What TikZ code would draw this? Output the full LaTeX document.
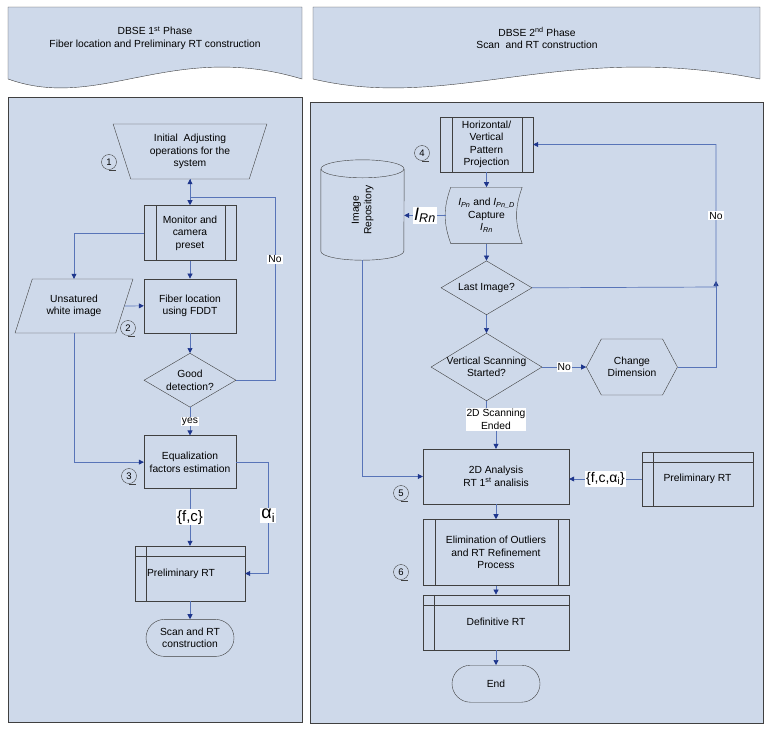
\documentclass[tikz,border=0pt]{standalone}
\usepackage{fontspec}
\setmainfont{Liberation Sans}
\usepackage{tikz}
\usetikzlibrary{positioning, shapes, arrows.meta}
\definecolor{panelblue}{RGB}{206,217,234}
\definecolor{flowblue}{RGB}{88,116,184}
\definecolor{tipblue}{RGB}{30,54,140}
\definecolor{edgegray}{RGB}{64,64,64}
\tikzstyle{box}=[%
      rectangle, draw=edgegray, align=center,
      minimum width=92pt, minimum height=55pt, inner sep=2pt
]
\tikzstyle{proc}=[%
      box, path picture={
        \draw[edgegray] ([xshift=12pt]path picture bounding box.north west)
              -- ([xshift=12pt]path picture bounding box.south west);
        \draw[edgegray] ([xshift=-11pt]path picture bounding box.north east)
              -- ([xshift=-11pt]path picture bounding box.south east);}
]
\tikzstyle{store}=[%
      box, path picture={
        \draw[edgegray] ([yshift=-10pt]path picture bounding box.north west)
              -- ([yshift=-10pt]path picture bounding box.north east);
        \draw[edgegray] ([xshift=11pt]path picture bounding box.north west)
              -- ([xshift=11pt]path picture bounding box.south west);}
]
\tikzstyle{io}=[%
      trapezium, trapezium left angle=65, trapezium right angle=115, trapezium stretches=true,
      draw=edgegray, align=center, minimum width=118pt, minimum height=54pt, inner sep=2pt
]
\tikzstyle{manual}=[%
      trapezium, trapezium angle=72, shape border rotate=180, trapezium stretches=true,
      draw=edgegray, align=center, minimum width=154pt, minimum height=55pt, inner sep=2pt
]
\tikzstyle{dec}=[%
      diamond, draw=edgegray, align=center, inner sep=-8pt,
      minimum width=92pt, minimum height=54pt
]
\tikzstyle{term}=[%
      rounded rectangle, draw=edgegray, align=center,
      minimum width=92pt, minimum height=37pt, inner sep=2pt
]
\tikzstyle{hexa}=[%
      signal, signal to=west and east, signal pointer angle=124,
      draw=edgegray, align=center, minimum width=91pt, minimum height=56pt, inner sep=2pt
]
\tikzstyle{num}=[%
      circle, draw=edgegray, minimum size=15pt, inner sep=0pt, font=\fontsize{9.5}{9.5}\selectfont
]
\tikzstyle{lbl}=[%
      fill=white, inner sep=1pt, align=center
]
\tikzstyle{flow}=[%
      draw=flowblue, line width=0.7pt, -{Triangle[length=5pt,width=5pt,color=tipblue]}
]
\tikzstyle{link}=[%
      draw=flowblue, line width=0.7pt
]

\begin{document}
\begin{tikzpicture}[x=1pt, y=-1pt, font=\fontsize{10.3}{12.5}\selectfont]
  \useasboundingbox (0,0) rectangle (770,732);

  % phase headers
  \draw[edgegray, fill=panelblue] (8,7) -- (302,7) -- (302,79)
        .. controls (172,40) and (100,112) .. (8,79) -- cycle;
  \draw[edgegray, fill=panelblue] (313,7) -- (760,7) -- (760,79)
        .. controls (562,40) and (453,112) .. (313,79) -- cycle;
  \node[align=center] (hdrA) at (155,38) {DBSE 1\textsuperscript{st} Phase\\Fiber location and Preliminary RT construction};
  \node[align=center] (hdrB) at (537,38) {DBSE 2\textsuperscript{nd} Phase\\Scan\ \ and RT construction};

  % panels
  \draw[edgegray, line width=1pt, fill=panelblue] (8,97) rectangle (302,722);
  \draw[edgegray, line width=1pt, fill=panelblue] (310,102) rectangle (763,723);

  % 1st phase
  \node[manual] (init) at (190,151.5) {Initial\ \ Adjusting\\operations for the\\system};
  \node[proc] (mon) [below=26pt of init] {Monitor and\\camera\\preset};
  \node[box, minimum height=54pt] (fib) [below=18pt of mon] {Fiber location\\using FDDT};
  \node[io] (unsat) at (74,306) {Unsatured\\white image};
  \node[dec] (good) [below=20pt of fib] {Good\\detection?};
  \node[box, minimum height=53pt] (eq) [below=28pt of good] {Equalization\\factors estimation};
  \node[store, minimum width=110pt] (prel) [below=57pt of eq] {\hspace*{-18pt}Preliminary RT};
  \node[term] (scan) [below=18pt of prel] {Scan and RT\\construction};
  \coordinate (nojoin) at (275,197);

  \draw[flow] (init.south) -- (mon.north);
  \draw[flow] (mon.west) -| (unsat.north);
  \draw[flow] (mon.south) -- (fib.north);
  \draw[flow] (unsat.east) -- (fib.west);
  \draw[flow] (fib.south) -- (good.north);
  \draw[flow] (good.east) -| node[lbl, pos=.83] {No} (nojoin) -| (init.south);
  \draw[flow] (good.south) -- node[lbl] {yes} (eq.north);
  \draw[flow] (unsat.south) |- (eq.west);
  \draw[flow] (eq.south) -- node[lbl, font=\fontsize{15}{15}\selectfont] {\{f,c\}} (prel.north);
  \draw[flow] (eq.east) -| node[lbl, pos=.74, font=\fontsize{18}{18}\selectfont] {α\textsubscript{i}} ([xshift=23pt]prel.east) -- (prel.east);
  \draw[flow] (prel.south) -- (scan.north);

  % 2nd phase
  \node[proc, minimum width=93pt] (hv) at (486.5,144.5) {Horizontal/\\Vertical\\Pattern\\Projection};
  \node[minimum width=71pt, minimum height=56pt, align=center] (cap) [below=15pt of hv]
       {\textit{I}\textsubscript{\textit{Pn}} and \textit{I}\textsubscript{\textit{Pn\_D}}\\Capture\\\textit{I}\textsubscript{\textit{Rn}}};
  \draw[edgegray] (cap.north west) -- (cap.north east) to[bend right=20] (cap.south east)
        -- (cap.south west) to[bend left=20] (cap.north west);
  \node[minimum width=83pt, minimum height=100pt] (repo) at (362.5,210)
       {\rotatebox{90}{\begin{tabular}{@{}c@{}}Image\\Repository\end{tabular}}};
  \draw[edgegray] ([yshift=-9pt]repo.north west) -- ([yshift=9pt]repo.south west)
        arc[start angle=180, end angle=360, x radius=41.5pt, y radius=9pt]
        -- ([yshift=-9pt]repo.north east);
  \draw[edgegray] ([yshift=-9pt]repo.north) ellipse [x radius=41.5pt, y radius=9pt];
  \node[dec, minimum width=91pt] (last) [below=17pt of cap] {Last Image?};
  \node[dec, minimum width=111pt, minimum height=66pt] (vsc) [below=18pt of last] {Vertical Scanning\\Started?};
  \node[hexa] (chg) [right=44pt of vsc] {Change\\Dimension};
  \node[lbl] (scanend) at (496,419.5) {2D Scanning\\Ended};
  \node[box, minimum width=146pt] (ana) at (496,476.5) {2D Analysis\\RT 1\textsuperscript{st} analisis};
  \node[store, minimum width=111pt, minimum height=54pt] (prel2) at (697.5,479) {Preliminary RT};
  \node[proc, minimum width=146pt, minimum height=66pt] (elim) [below=15pt of ana] {Elimination of Outliers\\and RT Refinement\\Process};
  \node[store, minimum width=146pt] (def) [below=9pt of elim] {Definitive RT};
  \node[term] (endn) [below=15pt of def] {End};
  \coordinate (turn) at (716,287);

  \draw[flow] (hv.south) -- (cap.north);
  \draw[flow] ([xshift=-5pt]cap.west) -- node[lbl, font=\fontsize{18}{18}\selectfont] {\textit{I}\textsubscript{\textit{Rn}}} (cap.west -| repo.east);
  \draw[flow] (cap.south) -- (last.north);
  \draw[flow] (last.south) -- (vsc.north);
  \draw[flow] (vsc.east) -- node[lbl] {No} (chg.west);
  \draw[flow] (chg.east) -| ([yshift=6pt]turn);
  \draw[flow] (last.east) -- (turn) |- node[lbl, pos=.25] {No} (hv.east);
  \draw[link] (vsc.south) -- (vsc.south |- scanend.north);
  \draw[flow] (scanend.south -| ana.north) -- (ana.north);
  \draw[flow] (repo.south) |- (ana.west);
  \draw[flow] (prel2.west) -- node[lbl, font=\fontsize{14}{14}\selectfont] {\{f,c,α\textsubscript{i}\}} (prel2.west -| ana.east);
  \draw[flow] (ana.south) -- (elim.north);
  \draw[flow] (elim.south) -- (def.north);
  \draw[flow] (def.south) -- (endn.north);

  % step numbers
  \node[num] (c1) at (109,162) {1};
  \node[num] (c2) at (128,328) {2};
  \node[num] (c3) at (129,476) {3};
  \node[num] (c4) at (422,153) {4};
  \node[num] (c5) at (401,493) {5};
  \node[num] (c6) at (401,572) {6};
  \foreach \c in {c1,c2,c3,c4,c5,c6}
    \draw[edgegray] (\c.south) -- ++(7,0);

\end{tikzpicture}
\end{document}
